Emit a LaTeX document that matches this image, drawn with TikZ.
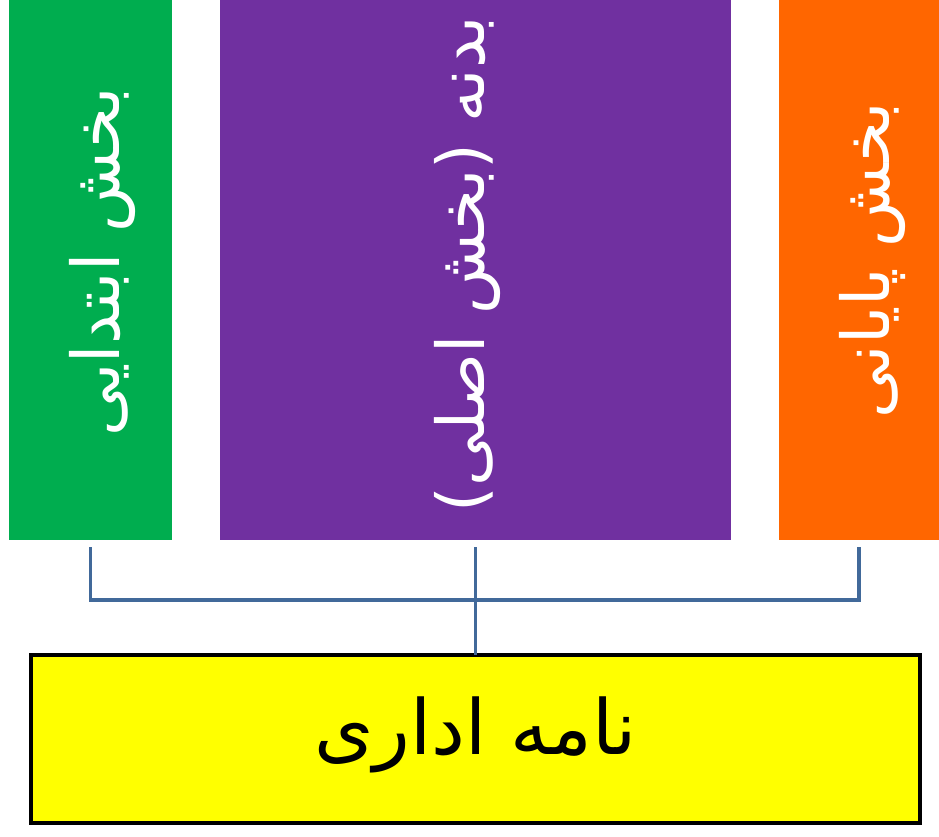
\documentclass[tikz,border=0pt]{standalone}
\usepackage{fontspec}
\newfontfamily\arabicfont[Script=Arabic]{DejaVu Sans}
\TeXXeTstate=1
\definecolor{cgreen}{HTML}{00AD4F}
\definecolor{cpurple}{HTML}{7030A0}
\definecolor{corange}{HTML}{FF6600}
\definecolor{cyellow}{HTML}{FFFF00}
\definecolor{cline}{HTML}{41699A}
\tikzset{
  colbox/.style={draw=none, inner sep=0pt, outer sep=0pt, anchor=north west},
  vtext/.style={rotate=90, text=white, inner sep=0pt, font=\arabicfont\fontsize{66}{78}\selectfont},
  conn/.style={draw=cline, line width=3.5pt},
}
\begin{document}
\begin{tikzpicture}[x=1pt,y=1pt]
\useasboundingbox (0,0) rectangle (939,-836);
\fill[white] (0,0) rectangle (939,-836);
\node[colbox, fill=cgreen, minimum width=163pt, minimum height=540pt] (g) at (9,0) {};
\node[colbox, fill=cpurple, minimum width=511pt, minimum height=540pt] (p) at (220,0) {};
\node[colbox, fill=corange, minimum width=160pt, minimum height=540pt] (o) at (779,0) {};
\node[draw=black, line width=4.5pt, fill=cyellow, minimum width=889pt, minimum height=168pt, inner sep=0pt, outer sep=0pt, anchor=north west] (y) at (31,-655) {};
\node[vtext] (gt) at (102,-262) {\beginR بخش ابتدایی\endR};
\node[vtext] (ot) at (872,-260) {\beginR بخش پایانی\endR};
\node[vtext] (pt) at (467,-264) {\beginR بدنه (بخش اصلی)\endR};
\node[inner sep=0pt, font=\arabicfont\fontsize{76}{90}\selectfont] (yt) at ([yshift=4pt]y.center) {\beginR نامه اداری\endR};
\coordinate (bus) at (0,-600);
\draw[conn] ([yshift=-7pt]g.south) |- (bus -| o.south) -- ([yshift=-7pt]o.south);
\draw[conn] ([yshift=-7pt]p.south) -- (p.south |- y.north);
\end{tikzpicture}
\end{document}
